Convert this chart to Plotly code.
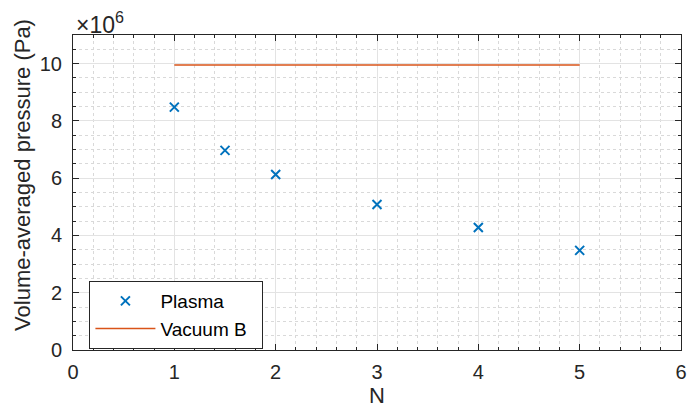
import plotly.graph_objects as go

N_plasma = [1, 1.5, 2, 3, 4, 5]
p_plasma = [8.48e6, 6.97e6, 6.13e6, 5.08e6, 4.28e6, 3.48e6]
N_vac = [1, 5]
p_vac = [9.95e6, 9.95e6]
y_ticks = [0, 2e6, 4e6, 6e6, 8e6, 10e6]
y_tick_labels = ["0", "2", "4", "6", "8", "10"]
x_ticks = [0, 1, 2, 3, 4, 5, 6]

font = "Liberation Sans, Arial, Helvetica, sans-serif"
axc = "#262626"

fig = go.Figure()
fig.add_trace(go.Scatter(x=N_plasma, y=p_plasma, mode="markers", name="Plasma",
                         marker=dict(symbol="x-thin", size=9, color="#0072BD",
                                     line=dict(width=2, color="#0072BD"))))
fig.add_trace(go.Scatter(x=N_vac, y=p_vac, mode="lines", name="Vacuum B\u00a0\u00a0",
                         line=dict(color="#D95319", width=1.5)))

fig.update_layout(
    width=689, height=412,
    margin=dict(l=73, r=8, t=35, b=62),
    paper_bgcolor="white", plot_bgcolor="white",
    font=dict(family=font, size=20, color=axc),
    showlegend=True,
    legend=dict(x=0.027, y=0.219, xanchor="left", yanchor="top",
                bgcolor="white", bordercolor=axc, borderwidth=1, itemwidth=60,
                font=dict(size=19, color="black"), tracegroupgap=0),
    xaxis=dict(range=[0, 6], tickvals=x_ticks, showline=True, linecolor=axc, linewidth=1,
               mirror="ticks", ticks="inside", ticklen=6, tickcolor=axc, automargin=False,
               showgrid=True, gridcolor="#e3e3e3", gridwidth=1, zeroline=False,
               minor=dict(dtick=0.2, showgrid=True, gridcolor="#d9d9d9", griddash="dot",
                          ticks="inside", ticklen=3, tickcolor=axc),
               title=dict(text="N", font=dict(size=22), standoff=3),
               ticklabelstandoff=4, ticklabeloverflow="allow",
               tickfont=dict(size=20)),
    yaxis=dict(range=[0, 11e6], tickvals=y_ticks, ticktext=y_tick_labels,
               showline=True, linecolor=axc, linewidth=1, automargin=False,
               mirror="ticks", ticks="inside", ticklen=6, tickcolor=axc,
               showgrid=True, gridcolor="#e3e3e3", gridwidth=1, zeroline=False,
               minor=dict(dtick=0.5e6, showgrid=True, gridcolor="#d9d9d9", griddash="dot",
                          ticks="inside", ticklen=3, tickcolor=axc),
               ticklabelstandoff=6,
               tickfont=dict(size=20)),
)
fig.add_annotation(xref="paper", yref="paper", x=-0.0822, y=0.556, xanchor="center", yanchor="middle",
                   text="Volume-averaged pressure (Pa)", textangle=-90, showarrow=False,
                   font=dict(size=22, color=axc))
fig.add_annotation(xref="paper", yref="paper", x=0.0, y=1.0, xanchor="left", yanchor="bottom",
                   text="×10<sup>6</sup>", showarrow=False, font=dict(size=23, color=axc),
                   yshift=-5, xshift=1)
fig.write_html("out.html", config={"displayModeBar": False},
               post_script="document.body.style.margin='0';document.body.style.overflow='hidden';")
